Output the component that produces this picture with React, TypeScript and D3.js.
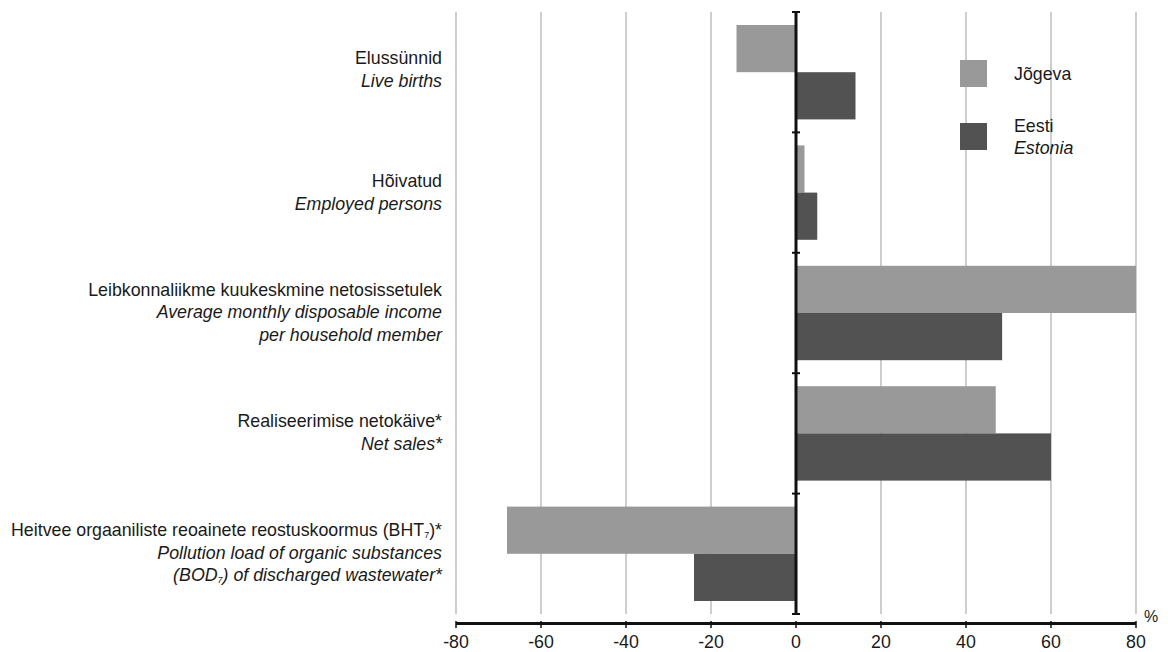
import React from "react";
import * as d3 from "d3";

const categoriesEt = [
  "Elussünnid",
  "Hõivatud",
  "Leibkonnaliikme kuukeskmine netosissetulek",
  "Realiseerimise netokäive*",
  "Heitvee orgaaniliste reoainete reostuskoormus (BHT₇)*",
];
const categoryKeys = ["births", "employed", "income", "sales", "bod"];
const jogeva = [-14, 2, 80, 47, -68];
const eesti = [14, 5, 48.5, 60, -24];
const xTicks = [-80, -60, -40, -20, 0, 20, 40, 60, 80];

const W = 1168;
const H = 652;
const left = 456;
const right = 1136;
const top = 12;
const bottom = 614;

const FONT = "'Liberation Sans', Arial, sans-serif";
const C_J = "#999999";
const C_E = "#525252";
const FS = 17.8;

function Label({ idx, x, yc }: { idx: number; x: number; yc: number }) {
  const lh = 22.5;
  const common = { x, textAnchor: "end" as const, fontFamily: FONT, fontSize: FS, fill: "#1a1a1a", dominantBaseline: "central" as const };
  if (idx === 0) {
    return (
      <g>
        <text {...common} y={yc - 14}>{categoriesEt[0]}</text>
        <text {...common} y={yc + 9} fontStyle="italic">Live births</text>
      </g>
    );
  }
  if (idx === 1) {
    return (
      <g>
        <text {...common} y={yc - 12}>{categoriesEt[1]}</text>
        <text {...common} y={yc + 11} fontStyle="italic">Employed persons</text>
      </g>
    );
  }
  if (idx === 2) {
    return (
      <g>
        <text {...common} y={yc - lh - 1}>{categoriesEt[2]}</text>
        <text {...common} y={yc - 1} fontStyle="italic">Average monthly disposable income</text>
        <text {...common} y={yc + lh - 1} fontStyle="italic">per household member</text>
      </g>
    );
  }
  if (idx === 3) {
    return (
      <g>
        <text {...common} y={yc - 12}>{categoriesEt[3]}</text>
        <text {...common} y={yc + 11} fontStyle="italic">Net sales*</text>
      </g>
    );
  }
  return (
    <g>
      <text {...common} y={yc - lh - 1}>
        Heitvee orgaaniliste reoainete reostuskoormus (BHT
        <tspan fontSize={9} dy={5}>7</tspan>
        <tspan dy={-5}>)*</tspan>
      </text>
      <text {...common} y={yc - 1} fontStyle="italic">Pollution load of organic substances</text>
      <text {...common} y={yc + lh - 1} fontStyle="italic">
        (BOD<tspan fontSize={9} dy={5}>7</tspan>
        <tspan dy={-5}>) of discharged wastewater*</tspan>
      </text>
    </g>
  );
}

export default function App() {
  const x = d3.scaleLinear().domain([-80, 80]).range([left, right]);
  const y = d3.scaleBand<string>().domain(categoryKeys).range([top, bottom]).paddingInner(0).paddingOuter(0);
  const bw = y.bandwidth();
  const pad = 13;
  const barH = (bw - 2 * pad) / 2;

  return (
    <svg width={W} height={H} style={{ position: "absolute", left: 0, top: 0, background: "#fff" }}>
      {/* gridlines */}
      {xTicks.filter((t) => t !== 0).map((t) => (
        <line key={t} x1={x(t)} x2={x(t)} y1={top} y2={bottom} stroke="#b3b3b3" strokeWidth={1.3} />
      ))}
      {/* bars */}
      {categoryKeys.map((k, i) => {
        const y0 = (y(k) as number) + pad;
        return (
          <g key={k}>
            <rect x={x(Math.min(0, jogeva[i]))} width={Math.abs(x(jogeva[i]) - x(0))} y={y0} height={barH} fill={C_J} />
            <rect x={x(Math.min(0, eesti[i]))} width={Math.abs(x(eesti[i]) - x(0))} y={y0 + barH} height={barH} fill={C_E} />
          </g>
        );
      })}
      {/* zero axis */}
      <line x1={x(0)} x2={x(0)} y1={top} y2={bottom} stroke="#111" strokeWidth={3} />
      {[...categoryKeys.map((k) => y(k) as number), bottom].map((yy, i) => (
        <line key={i} x1={x(0) - 4} x2={x(0) + 4} y1={yy} y2={yy} stroke="#111" strokeWidth={2} />
      ))}
      {/* bottom axis */}
      <line x1={left} x2={right} y1={623.5} y2={623.5} stroke="#111" strokeWidth={3} />
      {xTicks.map((t) => (
        <line key={"tk" + t} x1={x(t)} x2={x(t)} y1={621} y2={628} stroke="#111" strokeWidth={1.5} />
      ))}
      {xTicks.map((t) => (
        <text key={t} x={x(t)} y={648} textAnchor="middle" fontFamily={FONT} fontSize={FS} fill="#1a1a1a">
          {t}
        </text>
      ))}
      <text x={1151} y={622} textAnchor="middle" fontFamily={FONT} fontSize={16} fill="#1a1a1a">%</text>
      {/* category labels */}
      {categoryKeys.map((k, i) => (
        <Label key={k} idx={i} x={442} yc={(y(k) as number) + bw / 2} />
      ))}
      {/* legend */}
      <rect x={960} y={60} width={27} height={27} fill={C_J} />
      <text x={1014} y={74} dominantBaseline="central" fontFamily={FONT} fontSize={FS} fill="#1a1a1a">Jõgeva</text>
      <rect x={960} y={123} width={27} height={27} fill={C_E} />
      <text x={1014} y={126} dominantBaseline="central" fontFamily={FONT} fontSize={FS} fill="#1a1a1a">Eesti</text>
      <text x={1014} y={148} dominantBaseline="central" fontFamily={FONT} fontSize={FS} fontStyle="italic" fill="#1a1a1a">Estonia</text>
    </svg>
  );
}
